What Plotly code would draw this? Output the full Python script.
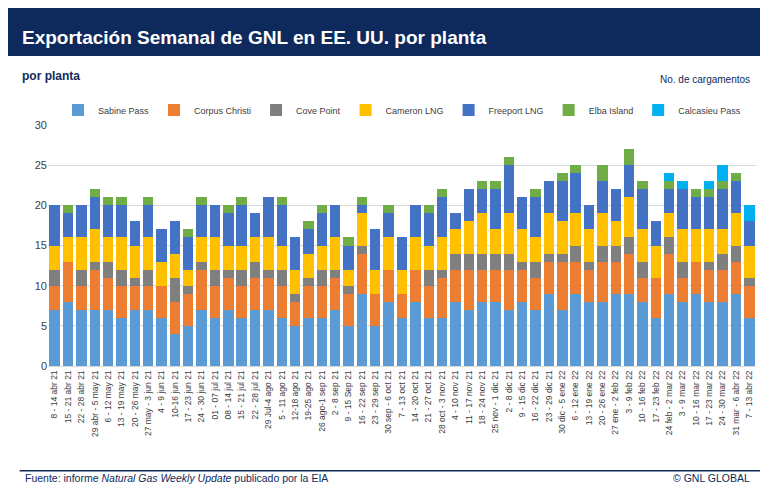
import plotly.graph_objects as go

weeks = ["8 - 14 abr 21","15 - 21 abr 21","22 - 28 abr 21","29 abr - 5 may 21","6 - 12 may 21","13 - 19 may 21","20 - 26 may 21","27 may - 3 jun 21","4 - 9 jun 21","10-16 jun 21","17 - 23 jun 21","24 - 30 jun 21","01 - 07 jul 21","08 - 14 jul 21","15 - 21 jul 21","22 - 28 jul 21","29 Jul-4 ago 21","5 - 11 ago 21","12-18 ago 21","19-25 ago 21","26 ago-1 sep 21","2 - 8 sep 21","9 - 15 Sep 21","16 - 22 sep 21","23 - 29 sep 21","30 sep - 6 oct 21","7 - 13 oct 21","14 - 20 oct 21","21 - 27 oct 21","28 oct - 3 nov 21","4 - 10 nov 21","11 - 17 nov 21","18 - 24 nov 21","25 nov - 1 dic 21","2 - 8 dic 21","9 - 15 dic 21","16 - 22 dic 21","23 - 29 dic 21","30 dic - 5 ene 22","6 - 12 ene 22","13 - 19 ene 22","20 - 26 ene 22","27 ene - 2 feb 22","3 - 9 feb 22","10 - 16 feb 22","17 - 23 feb 22","24 feb - 2 mar 22","3 - 9 mar 22","10 - 16 mar 22","17 - 23 mar 22","24 - 30 mar 22","31 mar - 6 abr 22","7 - 13 abr 22"]

sabine_pass = [7,8,7,7,7,6,7,7,6,4,5,7,6,7,6,7,7,6,5,6,6,7,5,9,5,8,6,8,6,6,8,7,8,8,7,8,7,9,7,9,8,8,9,9,8,6,9,8,9,8,8,9,6]
corpus_christi = [3,5,3,5,4,4,3,3,4,4,4,5,4,4,4,4,4,4,3,4,4,4,4,5,4,4,3,4,4,5,4,5,4,4,5,4,4,4,6,4,4,5,4,5,3,5,5,3,4,4,4,4,4]
cove_point = [2,0,2,1,2,2,1,2,0,3,1,1,2,1,2,2,1,2,1,1,2,1,1,1,0,0,0,0,2,1,2,2,2,2,2,1,2,1,1,2,1,2,2,2,2,0,2,2,0,1,2,2,1]
cameron_lng = [3,3,4,4,3,4,4,4,3,3,2,3,4,3,3,3,4,3,3,3,3,4,2,4,3,4,3,4,3,4,3,4,5,3,5,4,3,5,4,4,4,4,3,5,4,4,3,4,4,4,3,4,4]
freeport_lng = [5,3,4,4,4,4,3,4,4,4,4,4,4,4,5,3,5,5,4,3,4,4,3,1,5,3,4,4,4,5,2,4,3,5,6,4,5,4,5,5,3,4,4,4,5,3,3,5,4,4,5,4,3]
elba_island = [0,1,0,1,1,1,0,1,0,0,1,1,0,1,1,0,0,1,0,1,1,0,1,1,0,1,0,0,1,1,0,0,1,1,1,0,1,0,1,1,0,2,0,2,1,0,1,0,1,1,1,1,0]
calcasieu_pass = [0]*46 + [1,1,0,1,2,0,2]

series = [("Sabine Pass", sabine_pass, "#5B9BD5"),
          ("Corpus Christi", corpus_christi, "#ED7D31"),
          ("Cove Point", cove_point, "#7F7F7F"),
          ("Cameron LNG", cameron_lng, "#FFC000"),
          ("Freeport LNG", freeport_lng, "#4472C4"),
          ("Elba Island", elba_island, "#70AD47"),
          ("Calcasieu Pass", calcasieu_pass, "#00B0F0")]

fig = go.Figure()
for name, vals, col in series:
    fig.add_trace(go.Bar(x=weeks, y=vals, name=name, marker=dict(color=col, line=dict(width=0))))

navy = "#0E2A5C"
fig.update_layout(
    barmode="stack", bargap=0.22,
    width=768, height=491,
    margin=dict(l=40, r=20, t=117, b=133, autoexpand=False),
    paper_bgcolor="white", plot_bgcolor="white",
    font=dict(family="Liberation Sans, Arial", size=10, color="#404040"),
    legend=dict(orientation="h", x=0.5, xanchor="center", y=1.062, yanchor="middle",
                font=dict(size=9, color="#404040"), traceorder="normal",
                itemwidth=30, bgcolor="rgba(0,0,0,0)"),
    xaxis=dict(tickangle=-90, tickfont=dict(size=8.5, color="#404040"), showgrid=False,
               linecolor="#D9D9D9", ticks="", automargin=False),
    yaxis=dict(range=[0, 30], dtick=5, gridcolor="#D9D9D9", showline=False,
               tickfont=dict(size=11, color="#404040"), zeroline=False, automargin=False),
    shapes=[
        dict(type="rect", xref="paper", yref="paper", x0=-0.057, x1=1.029, y0=1.286, y1=1.485,
             fillcolor=navy, line=dict(width=0), layer="below"),
        dict(type="line", xref="paper", yref="paper", x0=-0.04, x1=1.01, y0=-0.435, y1=-0.435,
             line=dict(color=navy, width=1.5)),
    ],
    annotations=[
        dict(text="<b>Exportación Semanal de GNL en EE. UU. por planta</b>", xref="paper", yref="paper",
             x=-0.04, y=1.365, xanchor="left", yanchor="middle", showarrow=False,
             font=dict(size=19, color="white")),
        dict(text="<b>por planta</b>", xref="paper", yref="paper", x=-0.04, y=1.205,
             xanchor="left", yanchor="middle", showarrow=False, font=dict(size=12, color=navy)),
        dict(text="No. de cargamentos", xref="paper", yref="paper", x=0.995, y=1.19,
             xanchor="right", yanchor="middle", showarrow=False, font=dict(size=10, color=navy)),
        dict(text="Fuente: informe <i>Natural Gas Weekly Update</i> publicado por la EIA", xref="paper", yref="paper",
             x=-0.035, y=-0.465, xanchor="left", yanchor="middle", showarrow=False, font=dict(size=10.5, color=navy)),
        dict(text="© GNL GLOBAL", xref="paper", yref="paper", x=0.995, y=-0.465,
             xanchor="right", yanchor="middle", showarrow=False, font=dict(size=10.5, color=navy)),
    ],
)
fig.write_html("out.html")
